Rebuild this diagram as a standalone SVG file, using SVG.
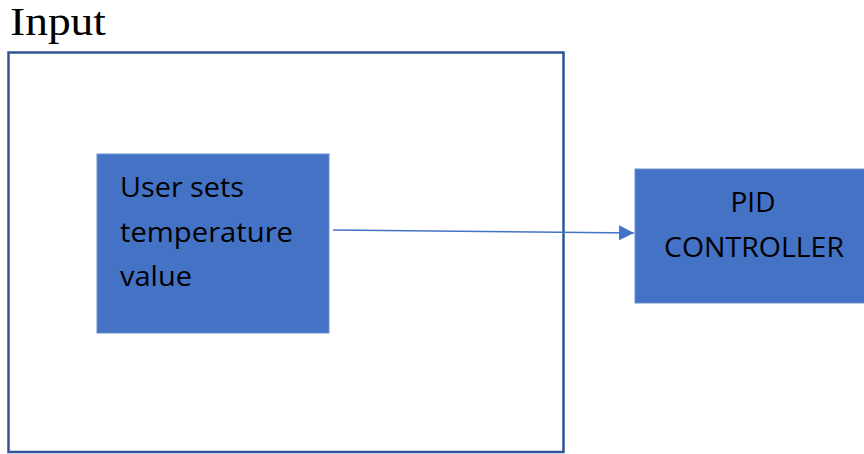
<svg xmlns="http://www.w3.org/2000/svg" width="864" height="454" viewBox="0 0 864 454">
  <style>
    .block { fill: #4472C4; stroke: #6A8FD0; stroke-width: 1; }
    .label { font-family: "Open Sans", "Liberation Sans", sans-serif; font-size: 27px; fill: #000; }
    .conn { stroke: #4472C4; stroke-width: 1.5; fill: none; }
  </style>
  <defs>
    <marker id="arrow" viewBox="0 0 10 10" refX="10" refY="5" markerWidth="15" markerHeight="15" markerUnits="userSpaceOnUse" orient="auto">
      <path d="M0,0 L10,5 L0,10 Z" fill="#4472C4"/>
    </marker>
  </defs>
  <rect width="864" height="454" fill="#FFFFFF"/>

  <g id="input-frame">
    <text x="10" y="35" font-family="Liberation Serif, serif" font-size="40" textLength="96" lengthAdjust="spacingAndGlyphs" fill="#000">Input</text>
    <rect x="8.5" y="52.5" width="555" height="399.5" fill="none" stroke="#2F5597" stroke-width="2.5"/>
  </g>

  <g id="user-setpoint">
    <rect class="block" x="97" y="154" width="232" height="179"/>
    <text class="label" x="120" y="197" textLength="124" lengthAdjust="spacingAndGlyphs">User sets</text>
    <text class="label" x="120" y="242" textLength="173" lengthAdjust="spacingAndGlyphs">temperature</text>
    <text class="label" x="120" y="286" textLength="72" lengthAdjust="spacingAndGlyphs">value</text>
  </g>

  <g id="pid-controller">
    <rect class="block" x="635" y="169" width="232" height="134"/>
    <text class="label" x="753" y="212" text-anchor="middle" textLength="45" lengthAdjust="spacingAndGlyphs">PID</text>
    <text class="label" x="754" y="257" text-anchor="middle" textLength="180" lengthAdjust="spacingAndGlyphs">CONTROLLER</text>
  </g>

  <g id="connectors">
    <line class="conn" x1="333" y1="230" x2="634" y2="233" marker-end="url(#arrow)"/>
  </g>
</svg>
